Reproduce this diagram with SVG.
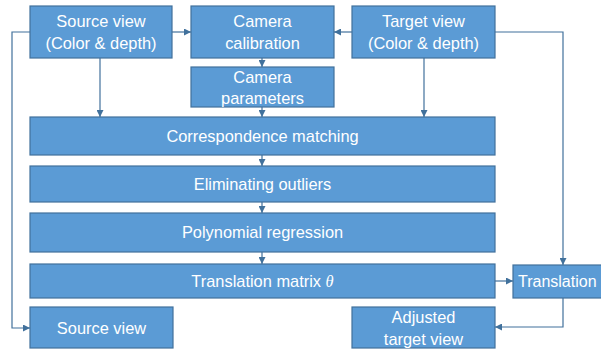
<svg xmlns="http://www.w3.org/2000/svg" width="601" height="349" viewBox="0 0 601 349">
<defs>
<style>
.box{fill:#5B9BD5;stroke:#41719C;stroke-width:1.2}
.t{fill:#fff;font-family:"Liberation Sans",Arial,sans-serif;font-size:16.4px;text-anchor:middle}
.c{fill:none;stroke:#41719C;stroke-width:1.2}
</style>
<marker id="ah" viewBox="0 0 8 8" refX="8" refY="4" markerWidth="7" markerHeight="7" markerUnits="userSpaceOnUse" orient="auto">
<path d="M0,0 L8,4 L0,8 z" fill="#41719C"/>
</marker>
</defs>
<rect width="601" height="349" fill="#fff"/>
<g id="connectors">
<path class="c" d="M30,32 H12 V328 H30" marker-end="url(#ah)"/>
<path class="c" d="M172,32 H191" marker-end="url(#ah)"/>
<path class="c" d="M352,32 H334" marker-end="url(#ah)"/>
<path class="c" d="M495,32 H563 V265" marker-end="url(#ah)"/>
<path class="c" d="M100,58 V117" marker-end="url(#ah)"/>
<path class="c" d="M424,58 V117" marker-end="url(#ah)"/>
<path class="c" d="M262,58 V67" marker-end="url(#ah)"/>
<path class="c" d="M262,107 V117" marker-end="url(#ah)"/>
<path class="c" d="M262,155 V166" marker-end="url(#ah)"/>
<path class="c" d="M262,202 V213" marker-end="url(#ah)"/>
<path class="c" d="M262,252 V264" marker-end="url(#ah)"/>
<path class="c" d="M495,281 H513" marker-end="url(#ah)"/>
<path class="c" d="M563,298 V327 H495" marker-end="url(#ah)"/>
</g>
<g id="source-view">
<rect class="box" x="30" y="6" width="142" height="52"/>
<text class="t" x="101" y="27">Source view</text>
<text class="t" x="101" y="49">(Color &amp; depth)</text>
</g>
<g id="camera-calibration">
<rect class="box" x="191" y="6" width="143" height="52"/>
<text class="t" x="262.5" y="27">Camera</text>
<text class="t" x="262.5" y="49">calibration</text>
</g>
<g id="target-view">
<rect class="box" x="352" y="6" width="143" height="52"/>
<text class="t" x="423.5" y="27">Target view</text>
<text class="t" x="423.5" y="49">(Color &amp; depth)</text>
</g>
<g id="camera-parameters">
<rect class="box" x="191" y="67" width="143" height="40"/>
<text class="t" x="262.5" y="83">Camera</text>
<text class="t" x="262.5" y="104">parameters</text>
</g>
<g id="correspondence-matching">
<rect class="box" x="30" y="117" width="465" height="38"/>
<text class="t" x="262.5" y="142">Correspondence matching</text>
</g>
<g id="eliminating-outliers">
<rect class="box" x="30" y="166" width="465" height="36"/>
<text class="t" x="262.5" y="190">Eliminating outliers</text>
</g>
<g id="polynomial-regression">
<rect class="box" x="30" y="213" width="465" height="39"/>
<text class="t" x="262.5" y="238">Polynomial regression</text>
</g>
<g id="translation-matrix">
<rect class="box" x="30" y="264" width="465" height="34"/>
<text class="t" x="262.5" y="287">Translation matrix <tspan font-family="'Liberation Serif',serif" font-style="italic">θ</tspan></text>
</g>
<g id="translation">
<rect class="box" x="513" y="265" width="100" height="33"/>
<text class="t" x="518" y="287" style="text-anchor:start;font-size:16px">Translation</text>
</g>
<g id="source-view-out">
<rect class="box" x="30" y="307" width="143" height="41"/>
<text class="t" x="101.5" y="334">Source view</text>
</g>
<g id="adjusted-target-view">
<rect class="box" x="352" y="307" width="143" height="41"/>
<text class="t" x="423.5" y="323">Adjusted</text>
<text class="t" x="423.5" y="345">target view</text>
</g>
</svg>
